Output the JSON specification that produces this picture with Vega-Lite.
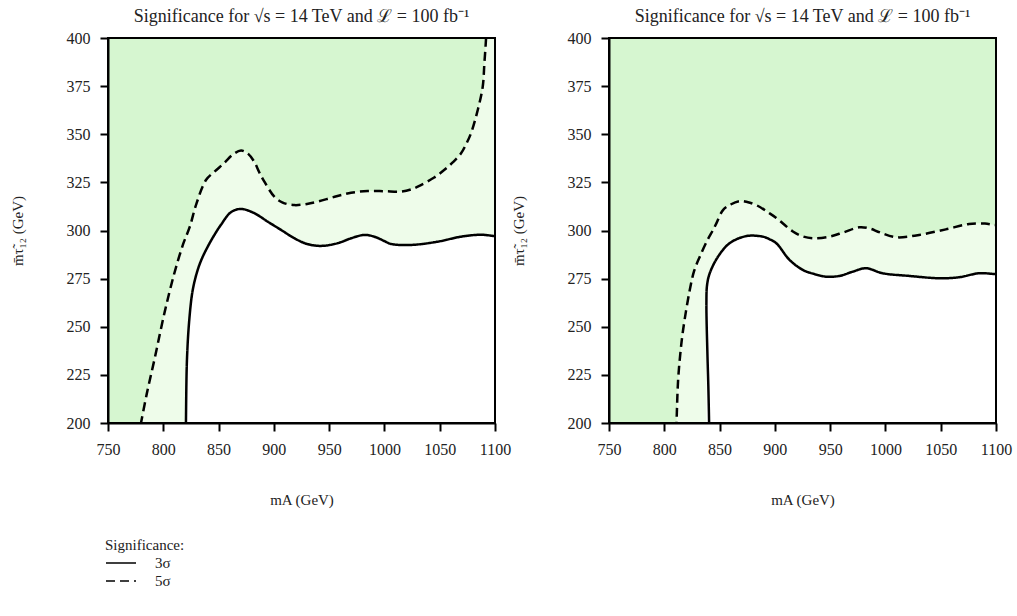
{
  "$schema": "https://vega.github.io/schema/vega-lite/v6.json",
  "background": "white",
  "padding": {"left": 10, "top": 8, "right": 3, "bottom": 5},
  "spacing": 0,
  "config": {
    "font": "Liberation Serif",
    "view": {"stroke": null, "fill": "#d6f6d0"},
    "title": {"font": "Liberation Serif", "fontSize": 18, "fontWeight": "normal", "color": "#222", "offset": 4},
    "axis": {
      "labelFont": "Liberation Serif", "labelFontSize": 16, "labelColor": "#222",
      "titleFont": "Liberation Serif", "titleFontSize": 15, "titleFontWeight": "normal", "titleColor": "#222",
      "domainColor": "black", "domainWidth": 2, "tickColor": "black", "tickWidth": 2, "tickSize": 8,
      "labelPadding": 10, "grid": false, "zindex": 1, "labelFlush": false, "labelOverlap": false
    },
    "legend": {
      "titleFont": "Liberation Serif", "titleFontSize": 15, "titleFontWeight": "normal", "titleColor": "#222",
      "labelFont": "Liberation Serif", "labelFontSize": 15, "labelColor": "#222"
    }
  },
  "datasets": {
    "curves": [
      {"panel": "left", "sig": "5σ", "i": 0, "x": 779.5, "y": 199},
      {"panel": "left", "sig": "5σ", "i": 1, "x": 785, "y": 215},
      {"panel": "left", "sig": "5σ", "i": 2, "x": 791.9, "y": 232.7},
      {"panel": "left", "sig": "5σ", "i": 3, "x": 801, "y": 257},
      {"panel": "left", "sig": "5σ", "i": 4, "x": 810, "y": 277.8},
      {"panel": "left", "sig": "5σ", "i": 5, "x": 818, "y": 293},
      {"panel": "left", "sig": "5σ", "i": 6, "x": 824, "y": 302},
      {"panel": "left", "sig": "5σ", "i": 7, "x": 830, "y": 314},
      {"panel": "left", "sig": "5σ", "i": 8, "x": 838.6, "y": 326.2},
      {"panel": "left", "sig": "5σ", "i": 9, "x": 846.2, "y": 330.5},
      {"panel": "left", "sig": "5σ", "i": 10, "x": 855, "y": 335},
      {"panel": "left", "sig": "5σ", "i": 11, "x": 863, "y": 339.5},
      {"panel": "left", "sig": "5σ", "i": 12, "x": 870.3, "y": 341.5},
      {"panel": "left", "sig": "5σ", "i": 13, "x": 876, "y": 340.2},
      {"panel": "left", "sig": "5σ", "i": 14, "x": 882, "y": 336},
      {"panel": "left", "sig": "5σ", "i": 15, "x": 887, "y": 330},
      {"panel": "left", "sig": "5σ", "i": 16, "x": 891.4, "y": 325.4},
      {"panel": "left", "sig": "5σ", "i": 17, "x": 900.4, "y": 317.6},
      {"panel": "left", "sig": "5σ", "i": 18, "x": 908, "y": 314.5},
      {"panel": "left", "sig": "5σ", "i": 19, "x": 918.5, "y": 313.2},
      {"panel": "left", "sig": "5σ", "i": 20, "x": 930, "y": 313.8},
      {"panel": "left", "sig": "5σ", "i": 21, "x": 939.6, "y": 315},
      {"panel": "left", "sig": "5σ", "i": 22, "x": 955, "y": 317.5},
      {"panel": "left", "sig": "5σ", "i": 23, "x": 969.8, "y": 319.6},
      {"panel": "left", "sig": "5σ", "i": 24, "x": 984.9, "y": 320.5},
      {"panel": "left", "sig": "5σ", "i": 25, "x": 1000, "y": 320.4},
      {"panel": "left", "sig": "5σ", "i": 26, "x": 1015, "y": 320.2},
      {"panel": "left", "sig": "5σ", "i": 27, "x": 1025, "y": 321.5},
      {"panel": "left", "sig": "5σ", "i": 28, "x": 1033, "y": 323.6},
      {"panel": "left", "sig": "5σ", "i": 29, "x": 1045, "y": 327.5},
      {"panel": "left", "sig": "5σ", "i": 30, "x": 1054, "y": 331.4},
      {"panel": "left", "sig": "5σ", "i": 31, "x": 1062, "y": 335.5},
      {"panel": "left", "sig": "5σ", "i": 32, "x": 1069.3, "y": 340.1},
      {"panel": "left", "sig": "5σ", "i": 33, "x": 1074, "y": 345},
      {"panel": "left", "sig": "5σ", "i": 34, "x": 1078.3, "y": 350.5},
      {"panel": "left", "sig": "5σ", "i": 35, "x": 1084.4, "y": 362.6},
      {"panel": "left", "sig": "5σ", "i": 36, "x": 1088.9, "y": 374.7},
      {"panel": "left", "sig": "5σ", "i": 37, "x": 1090.4, "y": 386.9},
      {"panel": "left", "sig": "5σ", "i": 38, "x": 1091.9, "y": 399.8},
      {"panel": "left", "sig": "5σ", "i": 39, "x": 1092.5, "y": 410},
      {"panel": "left", "sig": "5σ", "i": 40, "x": 1100, "y": 430},

      {"panel": "left", "sig": "3σ", "i": 0, "x": 820.4, "y": 196},
      {"panel": "left", "sig": "3σ", "i": 1, "x": 820.5, "y": 200.7},
      {"panel": "left", "sig": "3σ", "i": 2, "x": 821.4, "y": 232.7},
      {"panel": "left", "sig": "3σ", "i": 3, "x": 823.5, "y": 253.5},
      {"panel": "left", "sig": "3σ", "i": 4, "x": 826.6, "y": 269},
      {"panel": "left", "sig": "3σ", "i": 5, "x": 831.1, "y": 279.5},
      {"panel": "left", "sig": "3σ", "i": 6, "x": 835, "y": 285.5},
      {"panel": "left", "sig": "3σ", "i": 7, "x": 840.2, "y": 291.6},
      {"panel": "left", "sig": "3σ", "i": 8, "x": 846, "y": 297.5},
      {"panel": "left", "sig": "3σ", "i": 9, "x": 852.2, "y": 303},
      {"panel": "left", "sig": "3σ", "i": 10, "x": 861.2, "y": 309.5},
      {"panel": "left", "sig": "3σ", "i": 11, "x": 870.3, "y": 311.2},
      {"panel": "left", "sig": "3σ", "i": 12, "x": 882.3, "y": 309},
      {"panel": "left", "sig": "3σ", "i": 13, "x": 894.4, "y": 304.6},
      {"panel": "left", "sig": "3σ", "i": 14, "x": 906.5, "y": 300.3},
      {"panel": "left", "sig": "3σ", "i": 15, "x": 918.5, "y": 296},
      {"panel": "left", "sig": "3σ", "i": 16, "x": 930, "y": 293},
      {"panel": "left", "sig": "3σ", "i": 17, "x": 942.6, "y": 292},
      {"panel": "left", "sig": "3σ", "i": 18, "x": 957.7, "y": 293.4},
      {"panel": "left", "sig": "3σ", "i": 19, "x": 970, "y": 296},
      {"panel": "left", "sig": "3σ", "i": 20, "x": 981.8, "y": 297.7},
      {"panel": "left", "sig": "3σ", "i": 21, "x": 990.8, "y": 296.8},
      {"panel": "left", "sig": "3σ", "i": 22, "x": 1000, "y": 294.5},
      {"panel": "left", "sig": "3σ", "i": 23, "x": 1006, "y": 293},
      {"panel": "left", "sig": "3σ", "i": 24, "x": 1024, "y": 292.5},
      {"panel": "left", "sig": "3σ", "i": 25, "x": 1048.2, "y": 294.2},
      {"panel": "left", "sig": "3σ", "i": 26, "x": 1069.3, "y": 296.8},
      {"panel": "left", "sig": "3σ", "i": 27, "x": 1087.3, "y": 297.8},
      {"panel": "left", "sig": "3σ", "i": 28, "x": 1099.4, "y": 297.1},
      {"panel": "left", "sig": "3σ", "i": 29, "x": 1101, "y": 297},

      {"panel": "right", "sig": "5σ", "i": 0, "x": 810.8, "y": 196},
      {"panel": "right", "sig": "5σ", "i": 1, "x": 811.1, "y": 200.7},
      {"panel": "right", "sig": "5σ", "i": 2, "x": 812.5, "y": 222.3},
      {"panel": "right", "sig": "5σ", "i": 3, "x": 814.5, "y": 236},
      {"panel": "right", "sig": "5σ", "i": 4, "x": 817, "y": 248.3},
      {"panel": "right", "sig": "5σ", "i": 5, "x": 823, "y": 269},
      {"panel": "right", "sig": "5σ", "i": 6, "x": 827, "y": 279},
      {"panel": "right", "sig": "5σ", "i": 7, "x": 832.1, "y": 286.4},
      {"panel": "right", "sig": "5σ", "i": 8, "x": 839, "y": 295},
      {"panel": "right", "sig": "5σ", "i": 9, "x": 844.1, "y": 300.3},
      {"panel": "right", "sig": "5σ", "i": 10, "x": 847.1, "y": 303.7},
      {"panel": "right", "sig": "5σ", "i": 11, "x": 853.1, "y": 310.6},
      {"panel": "right", "sig": "5σ", "i": 12, "x": 860, "y": 313.5},
      {"panel": "right", "sig": "5σ", "i": 13, "x": 868.2, "y": 315.3},
      {"panel": "right", "sig": "5σ", "i": 14, "x": 875, "y": 314.8},
      {"panel": "right", "sig": "5σ", "i": 15, "x": 883.2, "y": 313.2},
      {"panel": "right", "sig": "5σ", "i": 16, "x": 895, "y": 309},
      {"panel": "right", "sig": "5σ", "i": 17, "x": 901.3, "y": 306.5},
      {"panel": "right", "sig": "5σ", "i": 18, "x": 916.3, "y": 299.5},
      {"panel": "right", "sig": "5σ", "i": 19, "x": 925, "y": 297},
      {"panel": "right", "sig": "5σ", "i": 20, "x": 934.3, "y": 296},
      {"panel": "right", "sig": "5σ", "i": 21, "x": 949.3, "y": 296.8},
      {"panel": "right", "sig": "5σ", "i": 22, "x": 962, "y": 299},
      {"panel": "right", "sig": "5σ", "i": 23, "x": 976.4, "y": 301.7},
      {"panel": "right", "sig": "5σ", "i": 24, "x": 985.4, "y": 301.1},
      {"panel": "right", "sig": "5σ", "i": 25, "x": 995, "y": 299},
      {"panel": "right", "sig": "5σ", "i": 26, "x": 1009.5, "y": 296.5},
      {"panel": "right", "sig": "5σ", "i": 27, "x": 1030.5, "y": 297.7},
      {"panel": "right", "sig": "5σ", "i": 28, "x": 1054.6, "y": 300.6},
      {"panel": "right", "sig": "5σ", "i": 29, "x": 1075.6, "y": 303.4},
      {"panel": "right", "sig": "5σ", "i": 30, "x": 1090, "y": 303.6},
      {"panel": "right", "sig": "5σ", "i": 31, "x": 1098.2, "y": 302.9},
      {"panel": "right", "sig": "5σ", "i": 32, "x": 1101, "y": 302.8},

      {"panel": "right", "sig": "3σ", "i": 0, "x": 840.6, "y": 196},
      {"panel": "right", "sig": "3σ", "i": 1, "x": 840.5, "y": 200.7},
      {"panel": "right", "sig": "3σ", "i": 2, "x": 839.8, "y": 220},
      {"panel": "right", "sig": "3σ", "i": 3, "x": 839, "y": 236.2},
      {"panel": "right", "sig": "3σ", "i": 4, "x": 838.1, "y": 262.2},
      {"panel": "right", "sig": "3σ", "i": 5, "x": 838.7, "y": 271.7},
      {"panel": "right", "sig": "3σ", "i": 6, "x": 841.1, "y": 277.8},
      {"panel": "right", "sig": "3σ", "i": 7, "x": 848.6, "y": 286.4},
      {"panel": "right", "sig": "3σ", "i": 8, "x": 859.1, "y": 293.4},
      {"panel": "right", "sig": "3σ", "i": 9, "x": 874.2, "y": 297.1},
      {"panel": "right", "sig": "3σ", "i": 10, "x": 889.2, "y": 296.8},
      {"panel": "right", "sig": "3σ", "i": 11, "x": 895, "y": 295.5},
      {"panel": "right", "sig": "3σ", "i": 12, "x": 901.3, "y": 293.4},
      {"panel": "right", "sig": "3σ", "i": 13, "x": 913.3, "y": 284.7},
      {"panel": "right", "sig": "3σ", "i": 14, "x": 925.3, "y": 279.5},
      {"panel": "right", "sig": "3σ", "i": 15, "x": 935, "y": 277.5},
      {"panel": "right", "sig": "3σ", "i": 16, "x": 946.4, "y": 276},
      {"panel": "right", "sig": "3σ", "i": 17, "x": 958.4, "y": 276.4},
      {"panel": "right", "sig": "3σ", "i": 18, "x": 970.4, "y": 278.6},
      {"panel": "right", "sig": "3σ", "i": 19, "x": 982.4, "y": 280.4},
      {"panel": "right", "sig": "3σ", "i": 20, "x": 997.4, "y": 277.8},
      {"panel": "right", "sig": "3σ", "i": 21, "x": 1021.5, "y": 276.4},
      {"panel": "right", "sig": "3σ", "i": 22, "x": 1048.6, "y": 275.2},
      {"panel": "right", "sig": "3σ", "i": 23, "x": 1066.6, "y": 275.7},
      {"panel": "right", "sig": "3σ", "i": 24, "x": 1084.7, "y": 277.8},
      {"panel": "right", "sig": "3σ", "i": 25, "x": 1098.2, "y": 277.4},
      {"panel": "right", "sig": "3σ", "i": 26, "x": 1101, "y": 277.3}
    ],
    "frame": [{"x0": 750, "x1": 1100, "y0": 200, "y1": 400}]
  },
  "resolve": {"scale": {"strokeDash": "shared"}, "legend": {"strokeDash": "shared"}},
  "hconcat": [
    {
      "width": 387, "height": 385,
      "title": "Significance for √s = 14 TeV and ℒ = 100 fb⁻¹",
      "data": {"name": "curves"},
      "transform": [{"filter": "datum.panel === 'left'"}],
      "encoding": {
        "x": {"field": "x", "type": "quantitative", "scale": {"domain": [750, 1100], "nice": false, "zero": false},
              "axis": {"values": [750, 800, 850, 900, 950, 1000, 1050, 1100], "format": "d", "title": "mA (GeV)", "titlePadding": 35}},
        "y": {"field": "y", "type": "quantitative", "scale": {"domain": [200, 400], "nice": false, "zero": false},
              "axis": {"values": [200, 225, 250, 275, 300, 325, 350, 375, 400], "format": "d", "title": "m̄τ̃₁₂ (GeV)", "titlePadding": 41}}
      },
      "layer": [
        {"transform": [{"filter": "datum.sig === '5σ'"}],
         "mark": {"type": "area", "clip": true, "fill": "#eefcea", "interpolate": "catmull-rom"},
         "encoding": {"y2": {"datum": 200}}},
        {"transform": [{"filter": "datum.sig === '3σ'"}],
         "mark": {"type": "area", "clip": true, "fill": "white", "interpolate": "catmull-rom"},
         "encoding": {"y2": {"datum": 200}}},
        {"mark": {"type": "line", "clip": true, "color": "black", "strokeWidth": 2.5, "interpolate": "catmull-rom"},
         "encoding": {
           "order": {"field": "i", "type": "quantitative"},
           "strokeDash": {"field": "sig", "type": "nominal",
             "scale": {"domain": ["3σ", "5σ"], "range": [[1, 0], [9, 5]]},
             "legend": {"orient": "none", "legendX": -3, "legendY": 500, "title": "Significance:", "symbolType": "stroke",
                        "symbolSize": 900, "symbolStrokeWidth": 1.3, "symbolStrokeColor": "black", "labelOffset": 18,
                        "rowPadding": 3, "clipHeight": 14, "titlePadding": 3}}
         }},
        {"data": {"name": "frame"}, "transform": [],
         "mark": {"type": "rect", "fill": null, "stroke": "black", "strokeWidth": 2},
         "encoding": {"x": {"field": "x0", "type": "quantitative"}, "x2": {"field": "x1"},
                      "y": {"field": "y0", "type": "quantitative"}, "y2": {"field": "y1"}}}
      ]
    },
    {
      "width": 387, "height": 385,
      "title": "Significance for √s = 14 TeV and ℒ = 100 fb⁻¹",
      "data": {"name": "curves"},
      "transform": [{"filter": "datum.panel === 'right'"}],
      "encoding": {
        "x": {"field": "x", "type": "quantitative", "scale": {"domain": [750, 1100], "nice": false, "zero": false},
              "axis": {"values": [750, 800, 850, 900, 950, 1000, 1050, 1100], "format": "d", "title": "mA (GeV)", "titlePadding": 35}},
        "y": {"field": "y", "type": "quantitative", "scale": {"domain": [200, 400], "nice": false, "zero": false},
              "axis": {"values": [200, 225, 250, 275, 300, 325, 350, 375, 400], "format": "d", "title": "m̄τ̃₁₂ (GeV)", "titlePadding": 41}}
      },
      "layer": [
        {"transform": [{"filter": "datum.sig === '5σ'"}],
         "mark": {"type": "area", "clip": true, "fill": "#eefcea", "interpolate": "catmull-rom"},
         "encoding": {"y2": {"datum": 200}}},
        {"transform": [{"filter": "datum.sig === '3σ'"}],
         "mark": {"type": "area", "clip": true, "fill": "white", "interpolate": "catmull-rom"},
         "encoding": {"y2": {"datum": 200}}},
        {"mark": {"type": "line", "clip": true, "color": "black", "strokeWidth": 2.5, "interpolate": "catmull-rom"},
         "encoding": {
           "order": {"field": "i", "type": "quantitative"},
           "strokeDash": {"field": "sig", "type": "nominal",
             "scale": {"domain": ["3σ", "5σ"], "range": [[1, 0], [9, 5]]},
             "legend": {"orient": "none", "legendX": -3, "legendY": 500, "title": "Significance:", "symbolType": "stroke",
                        "symbolSize": 900, "symbolStrokeWidth": 1.3, "symbolStrokeColor": "black", "labelOffset": 18,
                        "rowPadding": 3, "clipHeight": 14, "titlePadding": 3}}
         }},
        {"data": {"name": "frame"}, "transform": [],
         "mark": {"type": "rect", "fill": null, "stroke": "black", "strokeWidth": 2},
         "encoding": {"x": {"field": "x0", "type": "quantitative"}, "x2": {"field": "x1"},
                      "y": {"field": "y0", "type": "quantitative"}, "y2": {"field": "y1"}}}
      ]
    }
  ]
}
